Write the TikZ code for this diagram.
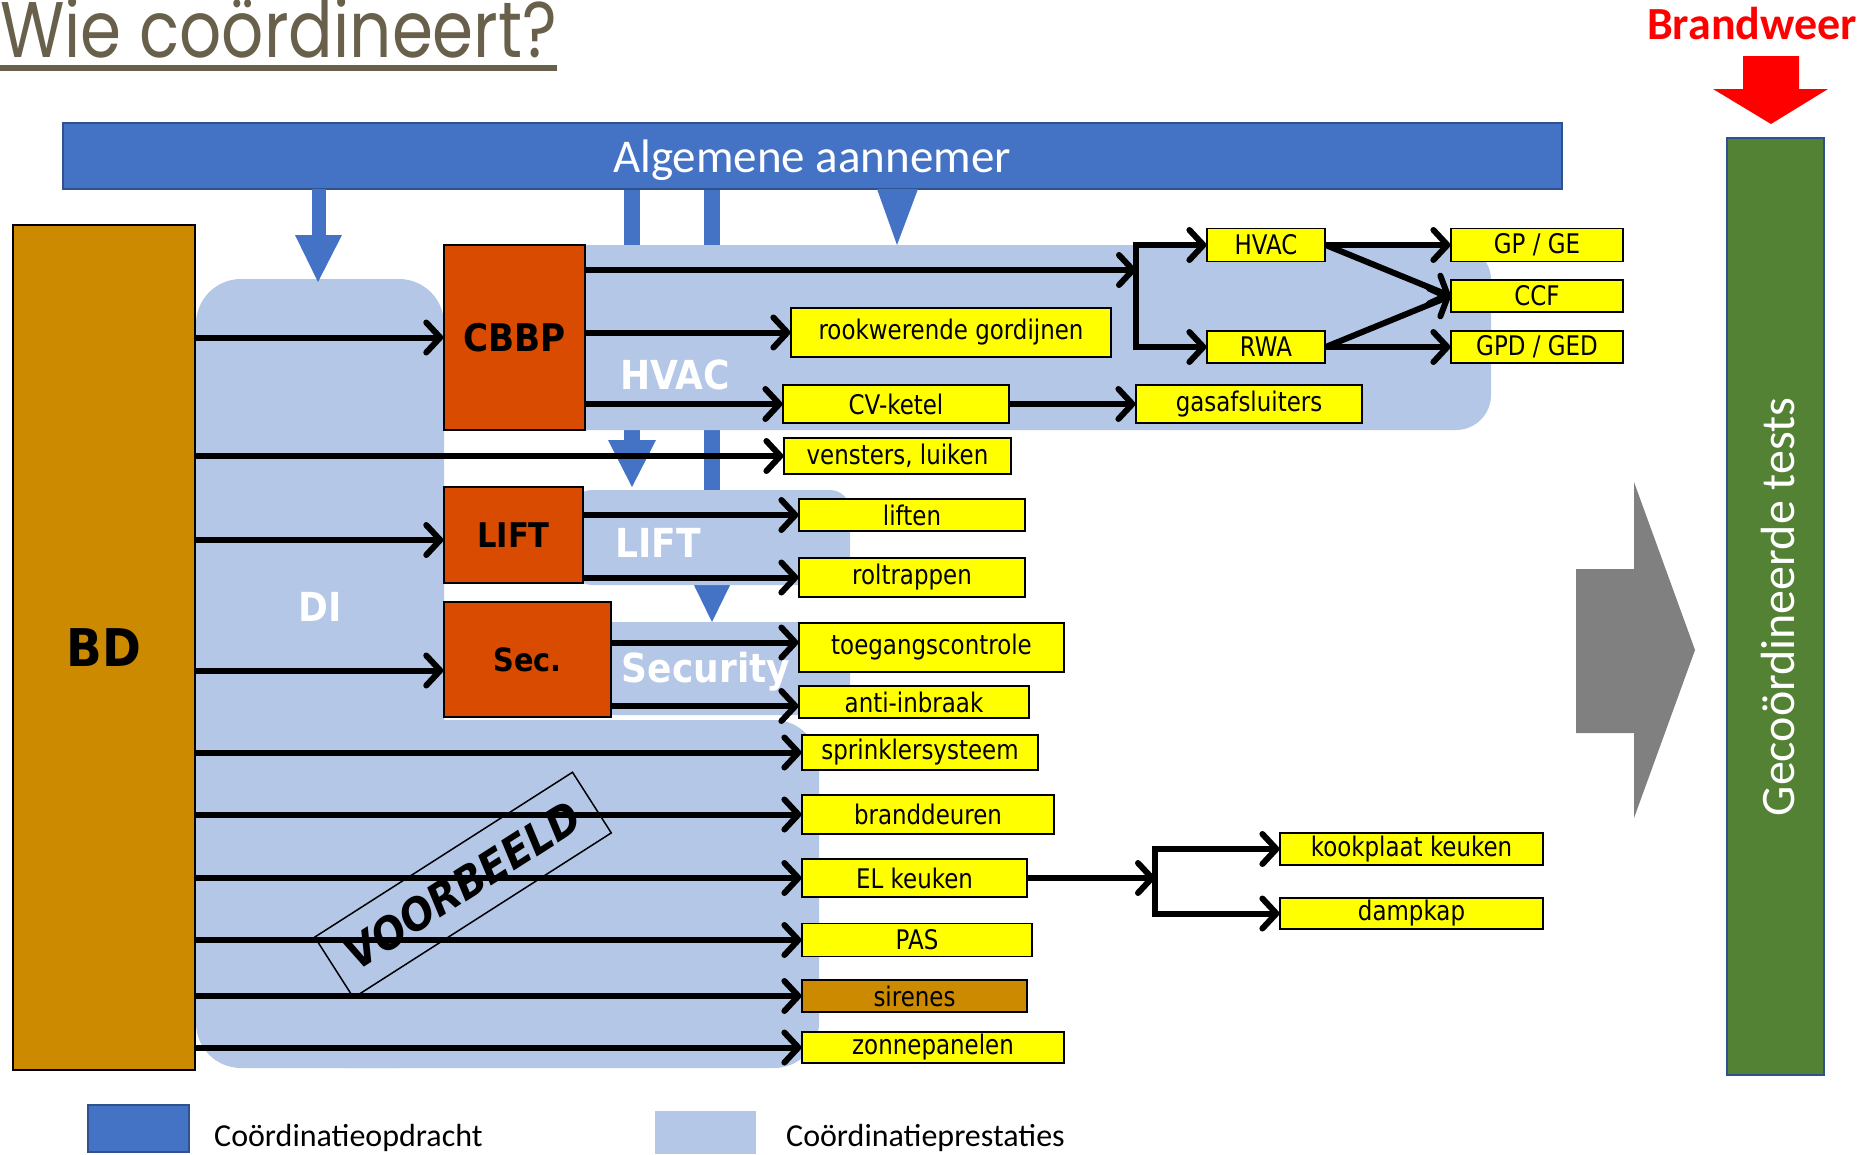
\documentclass[tikz,border=0pt]{standalone}
\usepackage{fontspec}
\usepackage{graphicx}
\usetikzlibrary{arrows.meta,calc}
\newfontfamily\tah[FakeStretch=0.9]{DejaVu Sans}
\newfontfamily\tahn[FakeStretch=0.85]{DejaVu Sans}
\newfontfamily\calfont{Carlito}
\newfontfamily\ttlfont{Poppins}
\definecolor{ablue}{RGB}{68,114,196}
\definecolor{ablueD}{RGB}{47,82,143}
\definecolor{lblue}{RGB}{180,199,231}
\definecolor{gold}{RGB}{204,138,0}
\definecolor{orng}{RGB}{217,75,0}
\definecolor{grn}{RGB}{84,130,53}
\definecolor{ttlc}{RGB}{104,96,74}
\definecolor{yel}{RGB}{255,255,0}
\tikzset{
 ybox/.style={draw=black, line width=1.2pt, fill=yel, inner sep=0pt, font=\tahn\fontsize{27}{32}\selectfont},
 yb/.style 2 args={ybox, minimum width=#1pt, minimum height=#2pt},
 obox/.style={draw=black, line width=1.5pt, fill=orng, inner sep=0pt},
 wlab/.style={text=white, inner sep=0pt, font=\tah\bfseries\fontsize{40}{46}\selectfont},
 barb/.tip={Straight Barb[length=14pt,width=30pt,line width=6pt,round]},
 arr/.style={line width=6pt, -barb},
 dbl/.style={line width=6pt, barb-barb},
}
\begin{document}
\begin{tikzpicture}[x=1pt,y=-1pt]
\useasboundingbox (0,0) rectangle (1873,1154);

% title
\node[anchor=base west, inner sep=0pt, text=ttlc] (title) at (0,57) {\resizebox{557pt}{60pt}{\ttlfont Wie coördineert?}};
\draw[ttlc, line width=6pt] ($(title.base west)+(0,11)$) -- ($(title.base east)+(0,11)$);

% Brandweer
\node[anchor=base, inner sep=0pt, text=red, font=\calfont\bfseries\fontsize{46}{52}\selectfont] (bw) at (1752,39) {Brandweer};
\fill[red] (1743,56) -- (1799,56) -- (1799,89) -- (1828,89) -- (1771,124) -- (1713,89) -- (1743,89) -- cycle;

% long blue arrows (behind regions)
\fill[ablue] (624,189) rectangle (640,440);
\fill[ablue] (608,440) -- (656,440) -- (632,487) -- cycle;
\fill[ablue] (704,189) rectangle (720,578);
\fill[ablue] (689,575) -- (735,575) -- (712,622) -- cycle;

% coordination regions
\fill[lblue, rounded corners=45pt] (196,279) rectangle (444,1068);
\fill[lblue, rounded corners=45pt] (300,720) rectangle (819,1068);
\fill[lblue, rounded corners=35pt] (500,245) rectangle (1491,430);
\fill[lblue, rounded corners=20pt] (572,490) rectangle (850,585);
\fill[lblue, rounded corners=20pt] (590,622) rectangle (850,715);

% Algemene aannemer bar
\node[fill=ablue, draw=ablueD, line width=2pt, minimum width=1499pt, minimum height=66pt, inner sep=0pt] (AA) at (812.5,156) {};
\node[anchor=base, text=white, inner sep=0pt, font=\calfont\fontsize{47}{54}\selectfont] (AAt) at (812,172) {Algemene aannemer};

% short blue arrows
\fill[ablue] (312,189) rectangle (326,235);
\fill[ablue] (295,235) -- (342,235) -- (318,282) -- cycle;
\fill[ablue] (877,189) -- (918,189) -- (897,245) -- cycle;

% BD
\node[draw=black, line width=1.5pt, fill=gold, minimum width=182pt, minimum height=845pt, inner sep=0pt,
      font=\tah\bfseries\fontsize{52}{60}\selectfont] (BD) at (104,647.5) {BD};

% orange boxes
\node[obox, minimum width=141pt, minimum height=185pt, font=\tah\bfseries\fontsize{38}{44}\selectfont] (CBBP) at (514.5,337.5) {CBBP};
\node[obox, minimum width=139pt, minimum height=96pt, font=\tah\bfseries\fontsize{34}{40}\selectfont] (LIFT) at (513.5,535) {LIFT};
\node[obox, minimum width=167pt, minimum height=115pt, font=\tah\bfseries\fontsize{32}{38}\selectfont] (Sec) at (527.5,659.5) {Sec.};

% region labels
\node[wlab] (lHVAC) at (675,375) {HVAC};
\node[wlab] (lLIFT) at (658,543) {LIFT};
\node[wlab] (lSec) at (706,672) {Security};
\node[wlab] (lDI) at (320,607) {DI};

% yellow boxes
\node[yb={320}{49}] (rook) at (951,332.5) {rookwerende gordijnen};
\node[yb={118}{33}] (hvacb) at (1266,245) {HVAC};
\node[yb={118}{32}] (rwa) at (1266,347) {RWA};
\node[yb={172}{33}] (gpge) at (1537,245) {GP / GE};
\node[yb={172}{32}] (ccf) at (1537,296) {CCF};
\node[yb={172}{32}] (gpd) at (1537,347) {GPD / GED};
\node[yb={226}{38}] (cv) at (896,404) {CV-ketel};
\node[yb={226}{38}] (gas) at (1249,404) {gasafsluiters};
\node[yb={227}{36}] (vens) at (897.5,456) {vensters, luiken};
\node[yb={226}{32}] (liften) at (912,515) {liften};
\node[yb={226}{39}] (rolt) at (912,577.5) {roltrappen};
\node[yb={265}{49}] (toeg) at (931.5,647.5) {toegangscontrole};
\node[yb={230}{32}] (anti) at (914,702) {anti-inbraak};
\node[yb={236}{35}] (sprink) at (920,752.5) {sprinklersysteem};
\node[yb={252}{39}] (brand) at (928,814.5) {branddeuren};
\node[yb={225}{38}] (el) at (914.5,878) {EL keuken};
\node[yb={230}{33}] (pas) at (917,940) {PAS};
\node[yb={225}{32}, fill=gold] (sir) at (914.5,996) {sirenes};
\node[yb={262}{31}] (zon) at (933,1047.5) {zonnepanelen};
\node[yb={263}{32}] (kook) at (1411.5,849) {kookplaat keuken};
\node[yb={263}{31}] (damp) at (1411.5,913.5) {dampkap};

% junction coordinates
\coordinate (s1) at (1136,270);
\coordinate (e1) at (1155,878);

% black connectors
\draw[arr] (BD.east |- CBBP.west) -- (CBBP.west);
\draw[arr] (BD.east |- vens.west) -- (vens.west);
\draw[arr] ($(BD.east |- LIFT.west)+(0,5)$) -- ($(LIFT.west)+(0,5)$);
\draw[arr] ($(BD.east |- Sec.west)+(0,11)$) -- ($(Sec.west)+(0,11)$);
\draw[arr] (BD.east |- sprink.west) -- (sprink.west);
\draw[arr] (BD.east |- brand.west) -- (brand.west);
\draw[arr] (BD.east |- el.west) -- (el.west);
\draw[arr] (BD.east |- pas.west) -- (pas.west);
\draw[arr] (BD.east |- sir.west) -- (sir.west);
\draw[arr] (BD.east |- zon.west) -- (zon.west);

\draw[arr] (CBBP.east |- s1) -- (s1);
\draw[dbl] (hvacb.west) -- (s1 |- hvacb.west) -- (s1 |- rwa.west) -- (rwa.west);
\draw[arr] (CBBP.east |- rook.west) -- (rook.west);
\draw[arr] (CBBP.east |- cv.west) -- (cv.west);
\draw[arr] (cv.east) -- (gas.west);
\draw[arr] (hvacb.east) -- (gpge.west);
\draw[arr] (hvacb.east) -- (ccf.west);
\draw[arr] (rwa.east) -- (ccf.west);
\draw[arr] (rwa.east) -- (gpd.west);

\draw[arr] (LIFT.east |- liften.west) -- (liften.west);
\draw[arr] (LIFT.east |- rolt.west) -- (rolt.west);
\draw[arr] ($(Sec.east |- toeg.west)+(0,-5)$) -- ($(toeg.west)+(0,-5)$);
\draw[arr] ($(Sec.east |- anti.west)+(0,4)$) -- ($(anti.west)+(0,4)$);

\draw[arr] (el.east) -- (e1);
\draw[dbl] (kook.west) -- (e1 |- kook.west) -- (e1 |- damp.west) -- (damp.west);

% VOORBEELD stamp
\node[draw=black, line width=1.5pt, rotate=32.6, minimum width=306pt, minimum height=72pt, inner sep=0pt,
      font=\tah\bfseries\itshape\fontsize{44}{50}\selectfont] (stamp) at (463,885) {VOORBEELD};

% gray arrow
\fill[gray] (1576,569) -- (1634,569) -- (1634,482) -- (1695,650) -- (1634,818) -- (1634,733) -- (1576,733) -- cycle;

% Gecoordineerde tests
\node[fill=grn, draw=ablueD, line width=2pt, minimum width=97pt, minimum height=937pt, inner sep=0pt] (GT) at (1775.5,606.5) {};
\node[rotate=90, text=white, inner sep=0pt, font=\calfont\fontsize{48}{56}\selectfont] (GTt) at (1778,607) {Gecoördineerde tests};

% legend
\fill[ablue, draw=ablueD, line width=1.5pt] (88,1105) rectangle (189,1152);
\node[anchor=base west, inner sep=0pt, font=\calfont\fontsize{32}{38}\selectfont] (lg1) at (214,1146) {Coördinatieopdracht};
\fill[lblue] (655,1111) rectangle (756,1154);
\node[anchor=base west, inner sep=0pt, font=\calfont\fontsize{32}{38}\selectfont] (lg2) at (786,1146) {Coördinatieprestaties};
\end{tikzpicture}
\end{document}
